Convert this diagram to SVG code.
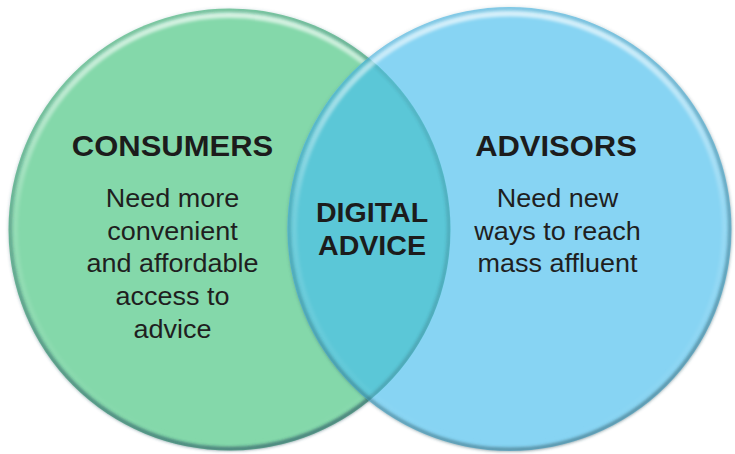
<svg xmlns="http://www.w3.org/2000/svg" width="735" height="454" viewBox="0 0 735 454">
  <style>
    .title { font-family: "Liberation Sans", Arial, sans-serif; font-weight: bold; font-size: 29.5px; fill: #1c1c1c; text-anchor: middle; }
    .body { font-family: "Liberation Sans", Arial, sans-serif; font-size: 25px; fill: #1f1f1f; text-anchor: middle; }
  </style>
  <defs>
    <!-- bevel: light band along the top, darker band along the lower edge -->
    <linearGradient id="shine" x1="0" y1="0" x2="0" y2="1">
      <stop offset="0" stop-color="#ffffff" stop-opacity="0.65"/>
      <stop offset="0.45" stop-color="#ffffff" stop-opacity="0.15"/>
      <stop offset="1" stop-color="#ffffff" stop-opacity="0"/>
    </linearGradient>
    <linearGradient id="shade" x1="0.2" y1="0" x2="0.6" y2="1">
      <stop offset="0" stop-color="#2d5a66" stop-opacity="0.08"/>
      <stop offset="0.5" stop-color="#2d5a66" stop-opacity="0.32"/>
      <stop offset="1" stop-color="#2d5a66" stop-opacity="0.55"/>
    </linearGradient>
    <filter id="soft" x="-10%" y="-10%" width="120%" height="120%">
      <feGaussianBlur stdDeviation="1.6"/>
    </filter>
    <clipPath id="greenClip">
      <circle cx="229.5" cy="229.5" r="221"/>
    </clipPath>
  </defs>

  <!-- CONSUMERS circle -->
  <g id="consumers">
    <circle cx="229.5" cy="229.5" r="221" fill="#84d8aa"/>
    <circle cx="229.5" cy="229.5" r="214.5" fill="none" stroke="url(#shine)" stroke-width="6" filter="url(#soft)"/>
    <circle cx="229.5" cy="229.5" r="219.5" fill="none" stroke="url(#shade)" stroke-width="4" filter="url(#soft)"/>
  </g>

  <!-- ADVISORS circle -->
  <g id="advisors">
    <circle cx="509.5" cy="229" r="222" fill="#87d4f3"/>
  </g>

  <!-- overlap lens -->
  <g id="digital-advice">
    <circle cx="509.5" cy="229" r="222" fill="#5bc7d7" clip-path="url(#greenClip)"/>
    <g clip-path="url(#greenClip)" opacity="0.6">
      <circle cx="229.5" cy="229.5" r="219.5" fill="none" stroke="url(#shade)" stroke-width="4" filter="url(#soft)"/>
    </g>
  </g>

  <!-- bevel of the blue circle, drawn over both fills -->
  <g id="advisors-rim">
    <circle cx="509.5" cy="229" r="215.5" fill="none" stroke="url(#shine)" stroke-width="6" filter="url(#soft)"/>
    <circle cx="509.5" cy="229" r="220.5" fill="none" stroke="url(#shade)" stroke-width="4" filter="url(#soft)"/>
  </g>

  <!-- labels -->
  <g id="consumers-text">
    <g transform="translate(172.5 0) scale(1.05 1)">
      <text class="title" x="0" y="156">CONSUMERS</text>
    </g>
    <g transform="translate(172.5 0) scale(1.08 1)">
      <text class="body" x="0" y="207.5">Need more</text>
      <text class="body" x="0" y="240">convenient</text>
      <text class="body" x="0" y="272.5">and affordable</text>
      <text class="body" x="0" y="305">access to</text>
      <text class="body" x="0" y="338">advice</text>
    </g>
  </g>

  <g id="advisors-text">
    <g transform="translate(556 0) scale(1.05 1)">
      <text class="title" x="0" y="156">ADVISORS</text>
    </g>
    <g transform="translate(557.5 0) scale(1.08 1)">
      <text class="body" x="0" y="207.5">Need new</text>
      <text class="body" x="0" y="240">ways to reach</text>
      <text class="body" x="0" y="272.5">mass affluent</text>
    </g>
  </g>

  <g id="digital-advice-text">
    <g transform="translate(372 0) scale(1.04 1)">
      <text class="title" x="0" y="222.5" style="font-size:27.5px">DIGITAL</text>
      <text class="title" x="0" y="255" style="font-size:27.5px">ADVICE</text>
    </g>
  </g>
</svg>
